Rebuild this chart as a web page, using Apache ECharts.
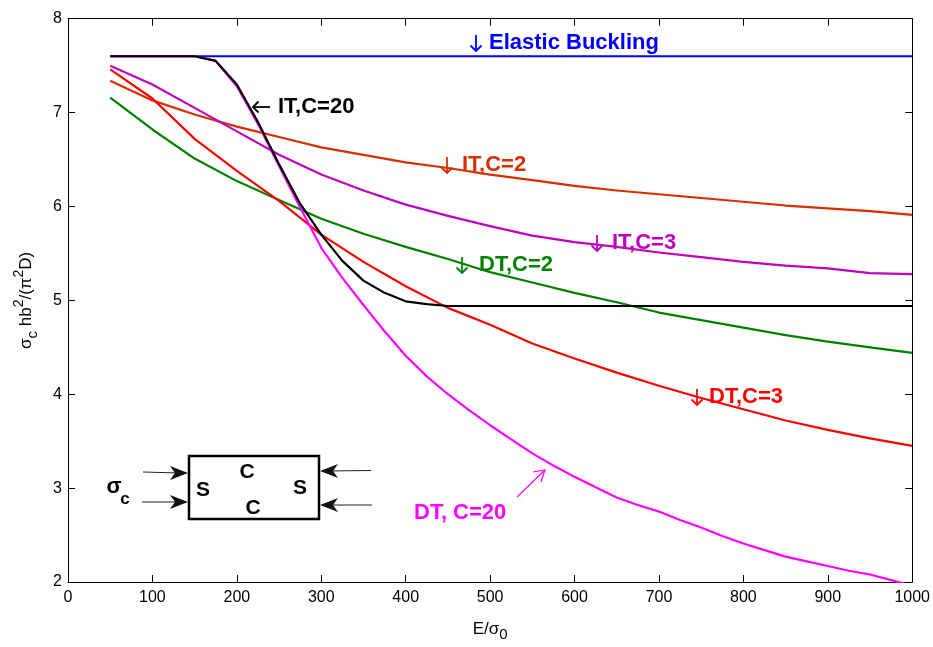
<!DOCTYPE html>
<html>
<head>
<meta charset="utf-8">
<script src="https://cdn.jsdelivr.net/npm/echarts@6/dist/echarts.min.js"></script>
<style>
html,body{margin:0;padding:0;background:#fff;}
#chart{width:933px;height:647px;}
</style>
</head>
<body>
<div id="chart"></div>
<script>
// ---- data ----
const xStep50 = [50,100,150,200,250,300,350,400,450,500,550,600,650,700,750,800,850,900,950,1000];
const xStep25 = [50,75,100,125,150,175,200,225,250,275,300,325,350,375,400,425,450,475,500,525,550,575,600,625,650,675,700,725,750,775,800,825,850,875,900,925,950,975,1000];

const elastic = [7.6,7.6,7.6,7.6,7.6,7.6,7.6,7.6,7.6,7.6,7.6,7.6,7.6,7.6,7.6,7.6,7.6,7.6,7.6,7.6];
const itC2  = [7.34,7.13,6.98,6.85,6.74,6.63,6.55,6.47,6.41,6.34,6.28,6.22,6.17,6.13,6.09,6.05,6.01,5.98,5.95,5.91];
const itC3  = [7.50,7.30,7.05,6.80,6.55,6.34,6.17,6.02,5.90,5.79,5.69,5.62,5.57,5.51,5.46,5.41,5.37,5.34,5.29,5.28];
const dtC2  = [7.16,6.82,6.51,6.27,6.07,5.87,5.71,5.57,5.44,5.30,5.19,5.08,4.98,4.87,4.79,4.71,4.63,4.56,4.50,4.44];
const dtC3  = [7.46,7.15,6.72,6.38,6.06,5.70,5.41,5.15,4.92,4.74,4.54,4.38,4.23,4.09,3.96,3.84,3.72,3.62,3.53,3.45];
const itC20 = [7.6,7.6,7.6,7.6,7.6,7.55,7.30,6.90,6.45,6.03,5.70,5.42,5.21,5.08,4.99,4.96,4.94,4.94,4.94,4.94,4.94,4.94,4.94,4.94,4.94,4.94,4.94,4.94,4.94,4.94,4.94,4.94,4.94,4.94,4.94,4.94,4.94,4.94,4.94];
const dtC20 = [7.6,7.6,7.6,7.6,7.6,7.55,7.28,6.88,6.43,5.99,5.56,5.24,4.95,4.67,4.41,4.19,4.00,3.83,3.67,3.52,3.37,3.24,3.12,3.01,2.90,2.82,2.75,2.66,2.58,2.49,2.41,2.34,2.27,2.22,2.17,2.12,2.08,2.02,1.96];

const xTicks = [0,100,200,300,400,500,600,700,800,900,1000];
const yTicks = [2,3,4,5,6,7,8];

// ---- helpers ----
function pairs(xs, ys){ return xs.map((x,i)=>[x, ys[i]]); }
const FONT = '"Liberation Sans", Arial, Helvetica, sans-serif';

const C_BLUE = '#0000ff', C_ORANGE = '#d92f00', C_PURPLE = '#bf00bf',
      C_GREEN = '#008000', C_RED = '#ff0000', C_MAG = '#ff00ff', C_BLACK = '#000000';

function line(name, data, color){
  return { name, type:'line', data, showSymbol:false, symbol:'none', smooth:false,
    lineStyle:{ color, width:2.2, join:'round' }, itemStyle:{color}, animation:false, clip:true, z:2 };
}

const axisCommon = {
  axisLine:{ show:true, onZero:false, lineStyle:{ color:'#000', width:1 } },
  axisTick:{ show:true, inside:true, length:7, lineStyle:{ color:'#000', width:1 } },
  splitLine:{ show:false }
};

const chart = echarts.init(document.getElementById('chart'), null, {renderer:'canvas'});

const labelFont = { fontFamily: FONT, fontSize: 22, fontWeight: 'bold' };

function txt(x, y, text, color, extra){
  return Object.assign({ type:'text', x, y, z:100,
    style: Object.assign({ text, fill: color, verticalAlign:'middle', align:'left' }, labelFont, extra||{}) });
}
function downArrow(cx, cy, color){
  return { type:'group', z:100, children:[
    { type:'line', z:100, shape:{ x1:cx, y1:cy-8, x2:cx, y2:cy+8 }, style:{ stroke:color, lineWidth:1.8 } },
    { type:'polyline', z:100, shape:{ points:[[cx-5.5,cy+2.5],[cx,cy+8],[cx+5.5,cy+2.5]] }, style:{ stroke:color, lineWidth:1.8, fill:null } }
  ]};
}
function leftArrow(x1, x2, cy, color){
  return { type:'group', z:100, children:[
    { type:'line', z:100, shape:{ x1:x1, y1:cy, x2:x2, y2:cy }, style:{ stroke:color, lineWidth:1.8 } },
    { type:'polyline', z:100, shape:{ points:[[x1+5.5,cy-5.5],[x1,cy],[x1+5.5,cy+5.5]] }, style:{ stroke:color, lineWidth:1.8, fill:null } }
  ]};
}
function arrowHead(tx, ty, dir){
  const L = 18, W = 7, N = 13;
  return { type:'polygon', z:100, shape:{ points:[[tx,ty],[tx-dir*L,ty-W],[tx-dir*N,ty],[tx-dir*L,ty+W]] },
    style:{ fill:'#111' } };
}
function seg(x1,y1,x2,y2,color,w){
  return { type:'line', z:100, shape:{x1,y1,x2,y2}, style:{ stroke:color, lineWidth:w||1.2 } };
}

const graphics = [
  downArrow(476, 43, C_BLUE),   txt(489, 43, 'Elastic Buckling', C_BLUE),
  leftArrow(253, 270, 107, C_BLACK), txt(278, 107, 'IT,C=20', C_BLACK),
  downArrow(447, 165, C_ORANGE), txt(462, 165, 'IT,C=2', C_ORANGE),
  downArrow(597, 243, C_PURPLE), txt(612, 243, 'IT,C=3', C_PURPLE),
  downArrow(462, 265, C_GREEN),  txt(479, 265, 'DT,C=2', C_GREEN),
  downArrow(697, 397, C_RED),    txt(709, 397, 'DT,C=3', C_RED),
  txt(414, 513, 'DT, C=20', C_MAG),
  seg(517, 497, 545, 470, C_MAG, 1.2),
  { type:'polyline', z:100, shape:{ points:[[533,472],[545,470],[541,482]] }, style:{ stroke:C_MAG, lineWidth:1.2, fill:null } },
  { type:'rect', z:100, shape:{ x:189, y:456, width:130, height:63 }, style:{ fill:'#fff', stroke:'#000', lineWidth:2.5 } },
  txt(203, 490, 'S', C_BLACK, {align:'center', fontSize:21}),
  txt(247, 472, 'C', C_BLACK, {align:'center', fontSize:21}),
  txt(253, 508, 'C', C_BLACK, {align:'center', fontSize:21}),
  txt(300, 488, 'S', C_BLACK, {align:'center', fontSize:21}),
  seg(143, 472, 180, 473, '#222'), arrowHead(188, 473, 1),
  seg(142, 502, 180, 502, '#222'), arrowHead(188, 502, 1),
  seg(371, 470.5, 328, 471, '#222'), arrowHead(320, 471, -1),
  seg(372, 505, 328, 505, '#222'), arrowHead(320, 505, -1),
  txt(114, 487, 'σ', C_BLACK, {align:'center', fontSize:22}),
  txt(125, 499, 'c', C_BLACK, {align:'center', fontSize:17})
];

const option = {
  animation:false,
  backgroundColor:'#fff',
  textStyle:{ fontFamily: FONT },
  grid:{ left:68, right:20.5, top:18.7, bottom:55.3, containLabel:false },
  xAxis:[
    Object.assign({ type:'value', position:'bottom', min:0, max:1000, interval:100,
      axisLabel:{ show:true, color:'#000', fontSize:16, fontFamily:FONT, margin:8,
        formatter: v => xTicks.includes(v) ? String(v) : '' },
      name:'{n|E/σ}{sub|0}', nameLocation:'middle', nameGap:34,
      nameTextStyle:{ rich:{
        n:{ fontSize:17, fontFamily:FONT, color:'#000', lineHeight:26, verticalAlign:'middle' },
        sub:{ fontSize:15, fontFamily:FONT, color:'#000', lineHeight:12, verticalAlign:'bottom' } } }
    }, axisCommon),
    Object.assign({ type:'value', position:'top', min:0, max:1000, interval:100, axisLabel:{show:false} }, axisCommon)
  ],
  yAxis:[
    Object.assign({ type:'value', position:'left', min:2, max:8, interval:1,
      axisLabel:{ show:true, color:'#000', fontSize:16, fontFamily:FONT, margin:6,
        formatter: v => yTicks.includes(v) ? String(v) : '' },
      name:'{n|σ}{sub|c}{n| hb}{sup|2}{n|/(π}{sup|2}{n|D)}', nameLocation:'middle', nameGap:28, nameRotate:90,
      nameTextStyle:{ rich:{
        n:{ fontSize:17, fontFamily:FONT, color:'#000', lineHeight:28, verticalAlign:'middle' },
        sub:{ fontSize:15, fontFamily:FONT, color:'#000', lineHeight:12, verticalAlign:'bottom' },
        sup:{ fontSize:14, fontFamily:FONT, color:'#000', lineHeight:12, verticalAlign:'top' } } }
    }, axisCommon),
    Object.assign({ type:'value', position:'right', min:2, max:8, interval:1, axisLabel:{show:false} }, axisCommon)
  ],
  series:[
    line('Elastic Buckling', pairs(xStep50, elastic), C_BLUE),
    line('IT, C=2', pairs(xStep50, itC2), C_ORANGE),
    line('IT, C=3', pairs(xStep50, itC3), C_PURPLE),
    line('DT, C=2', pairs(xStep50, dtC2), C_GREEN),
    line('DT, C=3', pairs(xStep50, dtC3), C_RED),
    line('DT, C=20', pairs(xStep25, dtC20), C_MAG),
    line('IT, C=20', pairs(xStep25, itC20), C_BLACK)
  ],
  graphic: graphics
};
chart.setOption(option);
</script>
</body>
</html>
